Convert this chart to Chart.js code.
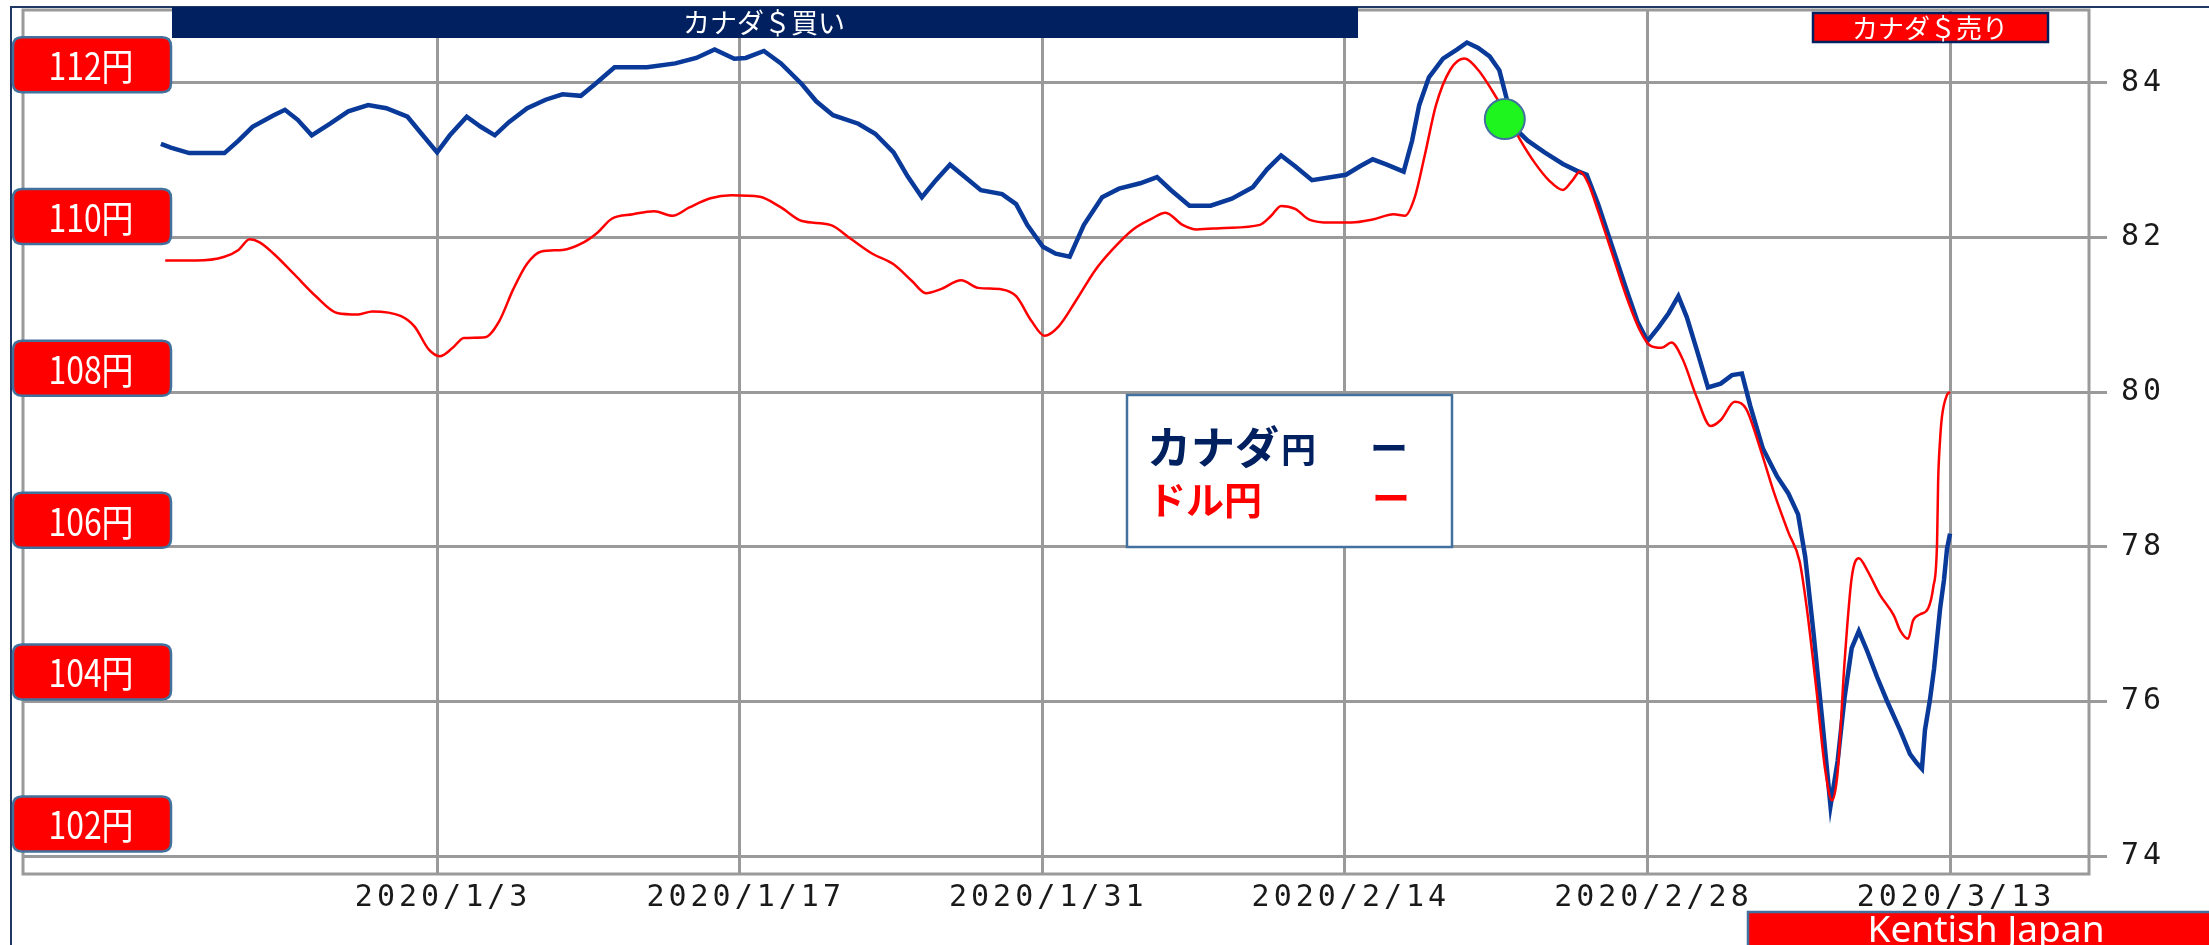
<!DOCTYPE html>
<html>
<head>
<meta charset="utf-8">
<script src="https://cdn.jsdelivr.net/npm/chart.js@4.4.1/dist/chart.umd.min.js"></script>
<style>
  html, body { margin: 0; padding: 0; background: #ffffff; }
  canvas { display: block; }
</style>
</head>
<body>
<canvas id="c" width="2209" height="945"></canvas>
<script>
// ---------------- DATA ----------------
// x positions are days since 2020/1/1 (negative = December 2019)
const xTickLabels = ['2020/1/3', '2020/1/17', '2020/1/31', '2020/2/14', '2020/2/28', '2020/3/13'];

// CAD/JPY (right axis)
const cadDays = [-10.78,-10.32,-9.47,-7.84,-7.19,-6.54,-5.56,-5.04,-4.45,-3.80,-2.95,-2.11,-1.19,-0.35,0.63,1.28,2.00,2.59,3.37,4.02,4.67,5.32,6.17,7.02,7.80,8.65,9.30,10.21,11.71,13.02,13.99,14.84,15.75,16.28,17.12,17.91,18.88,19.54,20.32,21.49,22.27,23.12,23.77,24.43,25.08,25.73,26.38,27.16,28.14,28.79,29.31,30.03,30.62,31.27,31.92,32.77,33.55,34.53,35.31,35.96,36.81,37.79,38.77,39.74,40.40,41.05,41.70,42.48,43.40,44.05,44.70,45.29,45.94,46.72,47.11,47.44,47.89,48.54,49.20,49.65,50.17,50.70,51.15,51.48,51.80,52.46,53.24,54.09,54.74,55.19,55.72,56.37,57.02,57.54,58.00,58.52,58.98,59.43,59.82,60.28,60.80,61.39,61.91,62.37,62.76,63.34,64.00,64.52,64.97,65.30,65.69,66.08,66.47,66.80,67.12,67.45,67.78,68.17,68.62,69.08,69.69,70.15,70.47,70.70,70.84,71.07,71.26,71.40,71.54,71.72,71.86,72.00];
const cadJpy  = [83.21,83.16,83.09,83.09,83.25,83.43,83.58,83.65,83.52,83.32,83.47,83.63,83.71,83.67,83.56,83.34,83.10,83.32,83.56,83.43,83.32,83.49,83.67,83.78,83.85,83.83,83.98,84.20,84.20,84.25,84.32,84.43,84.31,84.32,84.41,84.25,83.98,83.76,83.58,83.47,83.34,83.10,82.79,82.52,82.74,82.94,82.79,82.61,82.56,82.43,82.16,81.88,81.79,81.75,82.16,82.52,82.63,82.70,82.78,82.61,82.41,82.41,82.50,82.65,82.88,83.06,82.92,82.74,82.78,82.81,82.92,83.01,82.94,82.85,83.25,83.71,84.07,84.31,84.43,84.52,84.45,84.34,84.16,83.80,83.43,83.25,83.10,82.95,82.86,82.81,82.43,81.88,81.33,80.91,80.66,80.84,81.02,81.24,80.97,80.55,80.06,80.11,80.22,80.24,79.82,79.27,78.91,78.69,78.42,77.87,76.87,75.78,74.65,75.23,76.05,76.69,76.91,76.65,76.32,76.01,75.63,75.32,75.20,75.13,75.63,76.02,76.42,76.81,77.20,77.57,77.97,78.17];

// USD/JPY (left axis, yen)
const usdDays = [-10.58,-9.15,-7.84,-7.19,-6.67,-6.21,-5.56,-4.58,-3.61,-2.63,-1.65,-1.00,0.31,0.96,1.61,2.13,2.72,3.24,4.22,4.87,5.52,6.17,6.82,7.80,8.78,9.43,10.08,11.06,12.04,12.89,13.67,14.65,15.62,16.93,17.91,18.88,20.19,21.17,22.14,23.12,23.97,24.62,25.27,26.25,27.03,28.14,28.79,29.51,30.10,30.75,31.60,32.44,33.23,34.20,35.05,35.70,36.49,37.14,38.44,40.07,40.59,41.05,41.70,42.35,43.33,44.31,45.29,46.26,46.78,47.24,47.70,48.22,48.87,49.52,50.17,50.83,51.48,52.13,52.78,53.43,54.09,54.54,54.87,55.26,55.72,56.37,57.02,57.67,58.13,58.65,59.11,59.63,60.28,60.93,61.39,62.04,62.56,63.21,63.86,64.52,65.04,65.36,65.82,66.21,66.54,66.80,67.12,67.45,67.78,68.17,68.75,69.41,69.69,70.06,70.29,70.62,70.99,71.22,71.40,71.45,71.54,71.63,71.86,72.00];
const usdJpy  = [109.42,109.42,109.47,109.56,109.70,109.66,109.51,109.23,108.95,108.73,108.71,108.75,108.69,108.55,108.25,108.16,108.27,108.40,108.41,108.62,109.04,109.38,109.54,109.56,109.66,109.79,109.97,110.03,110.07,110.01,110.12,110.24,110.28,110.26,110.12,109.94,109.89,109.70,109.51,109.37,109.15,108.99,109.04,109.16,109.06,109.04,108.95,108.62,108.43,108.55,108.91,109.29,109.56,109.83,109.97,110.05,109.89,109.83,109.85,109.89,110.01,110.14,110.10,109.96,109.92,109.92,109.96,110.03,110.01,110.26,110.81,111.47,111.93,112.08,111.93,111.65,111.34,111.00,110.71,110.48,110.35,110.48,110.59,110.44,110.07,109.51,108.95,108.49,108.30,108.27,108.34,108.12,107.62,107.24,107.32,107.56,107.47,106.95,106.36,105.84,105.46,104.87,103.76,102.74,102.31,102.68,104.13,105.24,105.50,105.34,105.02,104.74,104.55,104.44,104.68,104.76,104.84,105.11,105.70,106.51,107.06,107.37,107.65,107.69];

// Signal marker (green circle) on CAD/JPY
const signalDays = [51.40];
const signalCad  = [83.53];

// Axis ticks
const cadTicks = [74, 76, 78, 80, 82, 84];
const usdTicks = [102, 104, 106, 108, 110, 112];
const usdTickLabels = ['102円', '104円', '106円', '108円', '110円', '112円'];

// Text
const buyLabel = 'カナダ＄買い';
const sellLabel = 'カナダ＄売り';
const legendNames = ['カナダ', 'ドル円'];
const brandLabel = 'Kentish Japan';

// ---------------- HELPERS ----------------
const BASE = Date.UTC(2020, 0, 1);
const dayOf = s => { const [y, m, d] = s.split('/').map(Number); return (Date.UTC(y, m - 1, d) - BASE) / 86400000; };
const xTickDays = xTickLabels.map(dayOf);
const pts = (xs, ys) => xs.map((x, i) => ({ x, y: ys[i] }));

const NAVY = '#002060';
const BLUE = '#0A3A99';
const RED = '#FF0000';
const STEEL = '#41719C';
const GRID = '#9a9a9a';
const TICKFONT = { family: 'DejaVu Sans Mono', size: 30, weight: 'normal' };

function roundRect(ctx, x, y, w, h, r) {
  ctx.beginPath();
  ctx.moveTo(x + r, y);
  ctx.lineTo(x + w - r, y);
  ctx.quadraticCurveTo(x + w, y, x + w, y + r);
  ctx.lineTo(x + w, y + h - r);
  ctx.quadraticCurveTo(x + w, y + h, x + w - r, y + h);
  ctx.lineTo(x + r, y + h);
  ctx.quadraticCurveTo(x, y + h, x, y + h - r);
  ctx.lineTo(x, y + r);
  ctx.quadraticCurveTo(x, y, x + r, y);
  ctx.closePath();
}

const zeroPad = s => { s.paddingTop = 0; s.paddingBottom = 0; s.paddingLeft = 0; s.paddingRight = 0; };

const decorPlugin = {
  id: 'decor',
  beforeDraw(chart) {
    chart.ctx.letterSpacing = '4px';
  },
  beforeDatasetsDraw(chart) {
    const { ctx, chartArea: a } = chart;
    ctx.save();
    ctx.strokeStyle = GRID;
    ctx.lineWidth = 3;
    ctx.strokeRect(a.left, a.top, a.right - a.left, a.bottom - a.top);
    ctx.restore();
  },
  afterDraw(chart) {
    const ctx = chart.ctx;
    ctx.save();
    ctx.letterSpacing = '0px';

    // outer frame lines
    ctx.strokeStyle = '#1F3864';
    ctx.lineWidth = 2;
    ctx.beginPath();
    ctx.moveTo(10, 7); ctx.lineTo(2209, 7);
    ctx.moveTo(11, 7); ctx.lineTo(11, 945);
    ctx.stroke();

    // buy banner
    ctx.fillStyle = NAVY;
    ctx.fillRect(172, 7, 1186, 31);
    ctx.fillStyle = '#ffffff';
    ctx.font = '27px "Noto Sans CJK JP"';
    ctx.textAlign = 'center';
    ctx.textBaseline = 'middle';
    ctx.fillText(buyLabel, 764, 23);

    // sell box
    ctx.fillStyle = RED;
    ctx.fillRect(1813, 13, 235, 29);
    ctx.strokeStyle = NAVY;
    ctx.lineWidth = 2.5;
    ctx.strokeRect(1813, 13, 235, 29);
    ctx.fillStyle = '#ffffff';
    ctx.font = '26px "Noto Sans CJK JP"';
    ctx.fillText(sellLabel, 1930, 28);

    // left yen label boxes, placed on the USD/JPY scale
    const yL = chart.scales.yL;
    usdTicks.forEach((v, i) => {
      const cy = yL.getPixelForValue(v);
      roundRect(ctx, 13, cy - 27.5, 158, 55, 9);
      ctx.fillStyle = RED;
      ctx.fill();
      ctx.strokeStyle = STEEL;
      ctx.lineWidth = 2.5;
      ctx.stroke();
      ctx.save();
      ctx.translate(91, cy + 1);
      ctx.scale(0.84, 1);
      ctx.fillStyle = '#ffffff';
      ctx.font = '38px "Noto Sans CJK JP"';
      ctx.textAlign = 'center';
      ctx.textBaseline = 'middle';
      ctx.fillText(usdTickLabels[i], 0, 0);
      ctx.restore();
    });

    // legend box
    ctx.fillStyle = '#ffffff';
    ctx.fillRect(1127, 395, 325, 152);
    ctx.strokeStyle = STEEL;
    ctx.lineWidth = 2.5;
    ctx.strokeRect(1127, 395, 325, 152);
    ctx.textAlign = 'left';
    ctx.textBaseline = 'middle';
    ctx.fillStyle = NAVY;
    ctx.font = 'bold 44px "Noto Sans CJK JP"';
    ctx.fillText(legendNames[0], 1147, 447);
    const w0 = ctx.measureText(legendNames[0]).width;
    ctx.font = 'bold 35px "Noto Sans CJK JP"';
    ctx.fillText('円', 1147 + w0 + 2, 450);
    ctx.fillStyle = RED;
    ctx.font = 'bold 38px "Noto Sans CJK JP"';
    ctx.fillText(legendNames[1], 1148, 500);
    ctx.textAlign = 'center';
    ctx.font = 'bold 38px "Noto Sans CJK JP"';
    ctx.fillStyle = NAVY;
    ctx.fillText('ー', 1389, 448);
    ctx.fillStyle = RED;
    ctx.fillText('ー', 1391, 498);

    // brand box
    ctx.fillStyle = RED;
    ctx.fillRect(1748, 912, 470, 40);
    ctx.strokeStyle = STEEL;
    ctx.lineWidth = 2.5;
    ctx.strokeRect(1748, 912, 470, 40);
    ctx.fillStyle = '#ffffff';
    ctx.font = '37px "Noto Sans"';
    ctx.textAlign = 'center';
    ctx.textBaseline = 'alphabetic';
    ctx.fillText(brandLabel, 1986, 942);

    ctx.restore();
  }
};

new Chart(document.getElementById('c'), {
  type: 'line',
  data: {
    datasets: [
      {
        label: 'signal',
        data: pts(signalDays, signalCad),
        yAxisID: 'y',
        showLine: false,
        pointRadius: 20,
        pointHoverRadius: 20,
        pointBackgroundColor: '#1EF51E',
        pointBorderColor: STEEL,
        pointBorderWidth: 2,
        order: 0
      },
      {
        label: 'ドル円',
        data: pts(usdDays, usdJpy),
        yAxisID: 'yL',
        borderColor: RED,
        borderWidth: 2.5,
        pointRadius: 0,
        tension: 0.4,
        cubicInterpolationMode: 'monotone',
        fill: false,
        order: 1
      },
      {
        label: 'カナダ円',
        data: pts(cadDays, cadJpy),
        yAxisID: 'y',
        borderColor: BLUE,
        borderWidth: 4.5,
        pointRadius: 0,
        tension: 0,
        fill: false,
        order: 2
      }
    ]
  },
  options: {
    responsive: false,
    animation: false,
    devicePixelRatio: 1,
    layout: { autoPadding: false, padding: { left: 23, top: 10, right: 0, bottom: 0 } },
    plugins: { legend: { display: false }, tooltip: { enabled: false } },
    scales: {
      x: {
        type: 'linear',
        position: 'bottom',
        min: -17.16,
        max: 78.43,
        afterBuildTicks: s => { s.ticks = xTickDays.map(v => ({ value: v })); },
        afterFit: s => { s.height = 71; zeroPad(s); },
        ticks: {
          callback: (v, i) => xTickLabels[i],
          font: TICKFONT,
          color: '#1a1a1a',
          padding: 6,
          labelOffset: 6,
          autoSkip: false,
          maxRotation: 0
        },
        grid: { color: GRID, lineWidth: 3, drawTicks: false },
        border: { display: false }
      },
      y: {
        type: 'linear',
        position: 'right',
        min: 73.77,
        max: 84.94,
        afterBuildTicks: s => { s.ticks = cadTicks.map(v => ({ value: v })); },
        afterFit: s => { s.width = 120; zeroPad(s); },
        ticks: { font: TICKFONT, color: '#1a1a1a', padding: 14 },
        grid: { color: GRID, lineWidth: 3, tickLength: 18, drawTicks: true },
        border: { display: false }
      },
      yL: {
        type: 'linear',
        position: 'left',
        display: false,
        min: 101.34,
        max: 112.72
      }
    }
  },
  plugins: [decorPlugin]
});
</script>
</body>
</html>
